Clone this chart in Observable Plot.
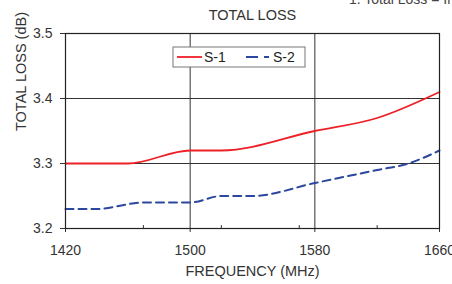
<!DOCTYPE html>
<html>
<head>
<meta charset="utf-8">
<script src="https://cdn.jsdelivr.net/npm/d3@7"></script>
<script src="https://cdn.jsdelivr.net/npm/@observablehq/plot@0.6"></script>
<style>
  html, body { margin: 0; padding: 0; background: #fff; }
  #chart { width: 452px; height: 284px; overflow: hidden; }
</style>
</head>
<body>
<div id="chart"></div>
<script>
// ---- data ----
const title = "TOTAL LOSS";
const noteText = "1. Total Loss = Insertion Loss";
const xLabel = "FREQUENCY (MHz)";
const yLabel = "TOTAL LOSS (dB)";
const xTicks = [1420, 1500, 1580, 1660];
const xMinorTicks = [1470, 1520, 1570, 1620];
const yTicks = [3.2, 3.3, 3.4, 3.5];

const s1Freq = [1420, 1460, 1500, 1520, 1580, 1620, 1660];
const s1Loss = [3.30, 3.30, 3.32, 3.32, 3.35, 3.37, 3.41];

const s2Freq = [1420, 1440, 1470, 1500, 1520, 1540, 1580, 1620, 1640, 1660];
const s2Loss = [3.23, 3.23, 3.24, 3.24, 3.25, 3.25, 3.27, 3.29, 3.30, 3.32];

const seriesNames = ["S-1", "S-2"];
const seriesColors = ["#ee2027", "#2b479f"];

const s1 = s1Freq.map((f, i) => ({f, v: s1Loss[i]}));
const s2 = s2Freq.map((f, i) => ({f, v: s2Loss[i]}));

const font = "'Liberation Sans', Arial, sans-serif";

const plot = Plot.plot({
  width: 452,
  height: 284,
  marginLeft: 65,
  marginRight: 13,
  marginTop: 33,
  marginBottom: 56,
  style: {fontFamily: font, fontSize: "14px", color: "#333", background: "#fff", overflow: "visible"},
  x: {domain: [1420, 1660], label: null},
  y: {domain: [3.2, 3.5], label: null},
  marks: [
    Plot.gridX(xTicks.slice(1, -1), {stroke: "#333", strokeOpacity: 1, strokeWidth: 1}),
    Plot.gridY(yTicks.slice(1, -1), {stroke: "#333", strokeOpacity: 1, strokeWidth: 1}),
    Plot.axisX(xTicks, {tickSize: 4, tickPadding: 13, stroke: "#333", fill: "#333", tickFormat: d => String(d)}),
    Plot.axisY(yTicks, {tickSize: 5, tickPadding: 8, stroke: "#333", fill: "#333", tickFormat: d3.format(".1f")}),
    Plot.ruleX(xMinorTicks, {x: d => d, y1: d => 3.2, y2: d => 3.2045, stroke: "#333"}),
    Plot.line(s1, {x: "f", y: "v", stroke: seriesColors[0], strokeWidth: 1.8, curve: "monotone-x"}),
    Plot.line(s2, {x: "f", y: "v", stroke: seriesColors[1], strokeWidth: 2, strokeDasharray: "8,5", curve: "monotone-x"}),
    Plot.frame({stroke: "#222", strokeWidth: 1.2}),
    Plot.text([title], {text: d => d, frameAnchor: "top", lineAnchor: "middle", dy: -18.5, fill: "#333", fontSize: 14.5, textAnchor: "middle"}),
    Plot.text([xLabel], {text: d => d, frameAnchor: "bottom", lineAnchor: "middle", dy: 43, fill: "#333", fontSize: 14.5}),
    Plot.text([yLabel], {text: d => d, frameAnchor: "left", lineAnchor: "middle", dx: -44, rotate: -90, fill: "#333", fontSize: 14.5})
  ]
});

document.getElementById("chart").appendChild(plot);

// top-right clipped note (cut off by the top edge, as in the reference)
const svg = d3.select(plot);
svg.append("text")
  .attr("x", 349).attr("y", 4)
  .attr("text-anchor", "start")
  .attr("font-family", font).attr("font-size", 14)
  .attr("fill", "#444")
  .text(noteText);

// legend
const lg = svg.append("g").attr("transform", "translate(173,47)");
lg.append("rect").attr("width", 132).attr("height", 20)
  .attr("fill", "#fff").attr("stroke", "#777").attr("stroke-width", 1);
lg.append("line").attr("x1", 4).attr("x2", 29).attr("y1", 10).attr("y2", 10)
  .attr("stroke", seriesColors[0]).attr("stroke-width", 1.8);
lg.append("text").attr("x", 31).attr("y", 15).attr("text-anchor", "start")
  .attr("font-family", font).attr("font-size", 14)
  .attr("fill", "#222").text(seriesNames[0]);
lg.append("line").attr("x1", 73).attr("x2", 96).attr("y1", 10).attr("y2", 10)
  .attr("stroke", seriesColors[1]).attr("stroke-width", 2).attr("stroke-dasharray", "12,6");
lg.append("text").attr("x", 100).attr("y", 15).attr("text-anchor", "start")
  .attr("font-family", font).attr("font-size", 14)
  .attr("fill", "#222").text(seriesNames[1]);
</script>
</body>
</html>
